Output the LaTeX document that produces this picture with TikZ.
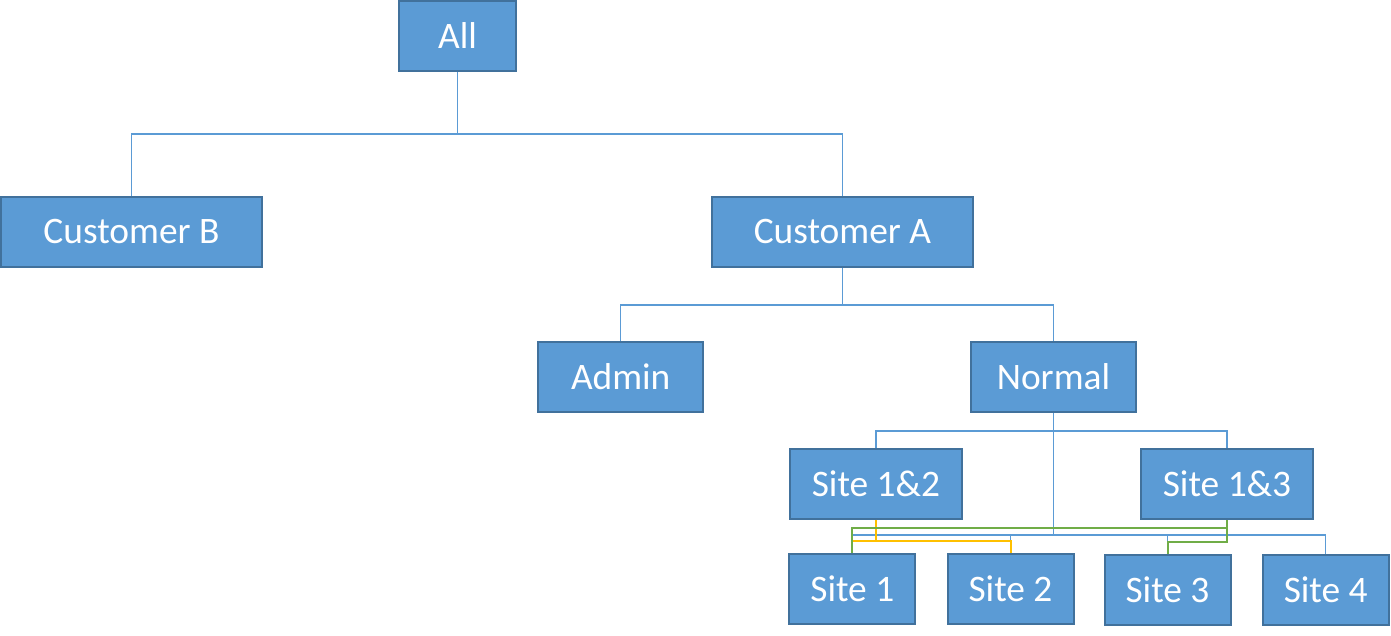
\documentclass[tikz,border=0pt]{standalone}
\usepackage{fontspec}
\setmainfont{Carlito}
\usepackage{tikz}
\usetikzlibrary{positioning, calc}
\definecolor{boxblue}{HTML}{5B9BD5}
\definecolor{boxedge}{HTML}{41719C}
\definecolor{linkblue}{HTML}{5B9BD5}
\definecolor{siteyellow}{HTML}{FFC000}
\definecolor{sitegreen}{HTML}{70AD47}
\tikzstyle{group} = [rectangle, minimum height=35pt, inner sep=0pt, text centered, draw=boxedge, line width=1pt, fill=boxblue, text=white, font=\fontsize{18.7}{22}\selectfont]
\tikzstyle{link} = [draw=linkblue, line width=0.6pt]
\tikzstyle{share} = [line width=1pt]

\begin{document}
\begin{tikzpicture}[x=0.5pt, y=-0.5pt]
        \useasboundingbox (0,0) rectangle (1391,636);

        \node[group, minimum width=58.5pt] (all) at (457.5,36) {All};

        \node[group, minimum width=130.5pt] (custB) at (131.5,232) {Customer B};
        \node[group, minimum width=130.5pt] (custA) at (842.4,232) {Customer A};

        \node[group, minimum width=82.5pt] (admin) at (620.7,377) {Admin};
        \node[group, minimum width=82.5pt] (normal) at (1053.5,377) {Normal};

        \node[group, minimum width=86pt] (site12) at (876,483.5) {Site 1\&2};
        \node[group, minimum width=86pt] (site13) at (1227,483.5) {Site 1\&3};

        \node[group, minimum width=63pt] (site1) at (852.3,589) {Site 1};
        \node[group, minimum width=63pt] (site2) at (1010.5,589) {Site 2};
        \node[group, minimum width=63pt] (site3) at (1167.5,590) {Site 3};
        \node[group, minimum width=63pt] (site4) at (1325.7,590) {Site 4};

        % tree links
        \draw[link] (all.south) -- (all.south |- 0,134);
        \draw[link] (custB.north) |- (all.south |- 0,134) -| (custA.north);
        \draw[link] (custA.south) -- (custA.south |- 0,305);
        \draw[link] (admin.north) |- (custA.south |- 0,305) -| (normal.north);
        \draw[link] (normal.south) -- (normal.south |- 0,535);
        \draw[link] (site12.north) |- (normal.south |- 0,431) -| (site13.north);
        \draw[link] (site1.north |- 0,535) -- (site4.north |- 0,535);
        \foreach \s in {site1,site2,site3,site4}
            \draw[link] (\s.north) -- (\s.north |- 0,535);

        % shared sites
        \draw[share, siteyellow] (site12.south) -- (site12.south |- 0,541);
        \draw[share, siteyellow] (site1.north) |- (site12.south |- 0,541) -| (site2.north);
        \draw[share, sitegreen] (site1.north) |- (site13.south |- 0,528) -- (site13.south);
        \draw[share, sitegreen] (site3.north) |- (site13.south |- 0,542) -- (site13.south);

\end{tikzpicture}
\end{document}
